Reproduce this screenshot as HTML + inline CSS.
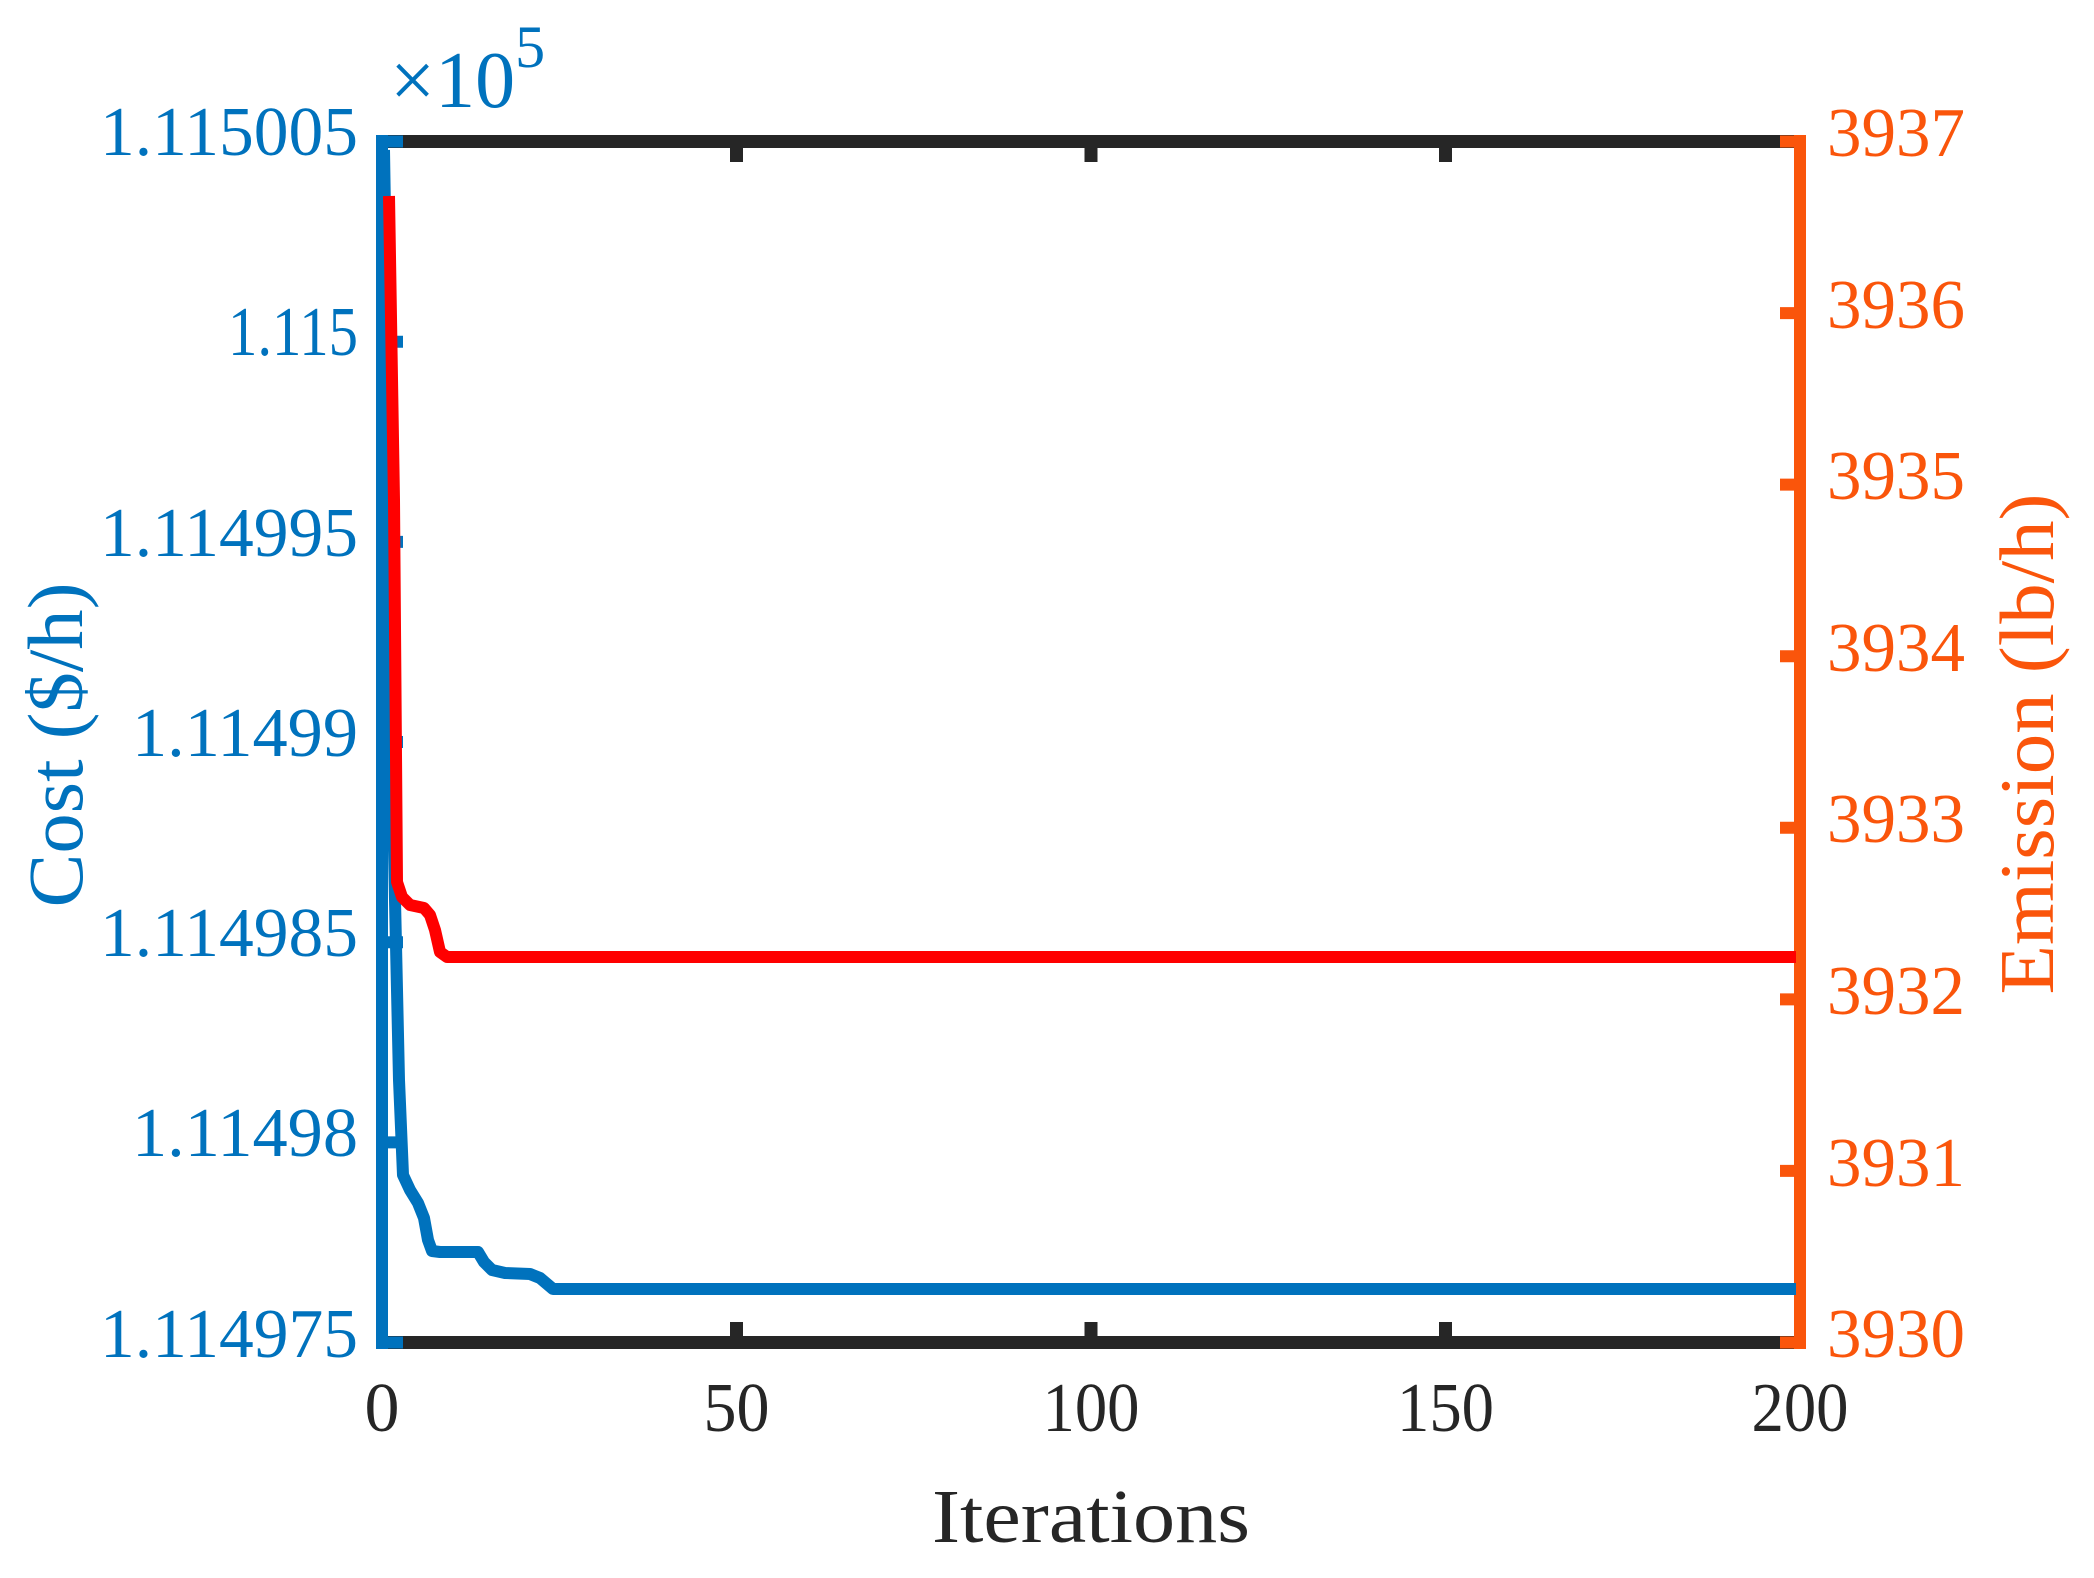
<!DOCTYPE html>
<html><head><meta charset="utf-8"><style>
html,body{margin:0;padding:0;background:#fff;}
svg{display:block;}
text{font-family:"Liberation Serif",serif;}
</style></head><body>
<svg width="2094" height="1578" viewBox="0 0 2094 1578" xmlns="http://www.w3.org/2000/svg">
<rect width="2094" height="1578" fill="#fff"/>
<g stroke="#262626" stroke-width="13" fill="none">
<line x1="376" y1="141.5" x2="1806" y2="141.5"/>
<line x1="376" y1="1342.5" x2="1806" y2="1342.5"/>
<line x1="736.5" y1="141.5" x2="736.5" y2="162"/><line x1="1091" y1="141.5" x2="1091" y2="162"/><line x1="1445.5" y1="141.5" x2="1445.5" y2="162"/>
<line x1="736.5" y1="1342.5" x2="736.5" y2="1322"/><line x1="1091" y1="1342.5" x2="1091" y2="1322"/><line x1="1445.5" y1="1342.5" x2="1445.5" y2="1322"/>
</g>
<g stroke="#0072BD" stroke-width="12" fill="none">
<line x1="382" y1="135" x2="382" y2="1349"/>
<line x1="382" y1="141.5" x2="403" y2="141.5"/>
<line x1="382" y1="341.7" x2="403" y2="341.7"/>
<line x1="382" y1="541.9" x2="403" y2="541.9"/>
<line x1="382" y1="742" x2="403" y2="742"/>
<line x1="382" y1="942.2" x2="403" y2="942.2"/>
<line x1="382" y1="1142.4" x2="403" y2="1142.4"/>
<line x1="382" y1="1342.5" x2="403" y2="1342.5"/>
</g>
<g stroke="#FA550B" stroke-width="12" fill="none">
<line x1="1800" y1="135" x2="1800" y2="1349"/>
<line x1="1800" y1="141.5" x2="1780" y2="141.5"/>
<line x1="1800" y1="313.1" x2="1780" y2="313.1"/>
<line x1="1800" y1="484.6" x2="1780" y2="484.6"/>
<line x1="1800" y1="656.2" x2="1780" y2="656.2"/>
<line x1="1800" y1="827.8" x2="1780" y2="827.8"/>
<line x1="1800" y1="999.4" x2="1780" y2="999.4"/>
<line x1="1800" y1="1170.9" x2="1780" y2="1170.9"/>
<line x1="1800" y1="1342.5" x2="1780" y2="1342.5"/>
</g>
<polyline fill="none" stroke="#0072BD" stroke-width="12" stroke-linejoin="round"
points="384,150 388,400 391,700 395,900 399,1080 403,1175 410,1190 418,1203 424,1218 428,1240 432,1251 440,1252 478,1252 484,1262 492,1270 505,1273 530,1274 540,1278 553,1289 1796,1289"/>
<polyline fill="none" stroke="#FF0000" stroke-width="12" stroke-linejoin="round"
points="389,196 394,500 397,882 402,897 410,905 424,908 430,915 435,930 440,952 447,957 1796,957"/>
<g fill="#0072BD" font-size="70" text-anchor="end">
<text x="358" y="155" textLength="258" lengthAdjust="spacingAndGlyphs">1.115005</text>
<text x="358" y="355" textLength="130" lengthAdjust="spacingAndGlyphs">1.115</text>
<text x="358" y="556" textLength="258" lengthAdjust="spacingAndGlyphs">1.114995</text>
<text x="358" y="756" textLength="226" lengthAdjust="spacingAndGlyphs">1.11499</text>
<text x="358" y="956" textLength="258" lengthAdjust="spacingAndGlyphs">1.114985</text>
<text x="358" y="1156" textLength="226" lengthAdjust="spacingAndGlyphs">1.11498</text>
<text x="358" y="1357" textLength="258" lengthAdjust="spacingAndGlyphs">1.114975</text>
</g>
<text x="390" y="107" fill="#0072BD" font-size="80">×10<tspan font-size="60" dy="-40">5</tspan></text>
<g fill="#FA550B" font-size="70">
<text x="1827" y="156" textLength="138" lengthAdjust="spacingAndGlyphs">3937</text>
<text x="1827" y="328" textLength="138" lengthAdjust="spacingAndGlyphs">3936</text>
<text x="1827" y="499" textLength="138" lengthAdjust="spacingAndGlyphs">3935</text>
<text x="1827" y="671" textLength="138" lengthAdjust="spacingAndGlyphs">3934</text>
<text x="1827" y="842" textLength="138" lengthAdjust="spacingAndGlyphs">3933</text>
<text x="1827" y="1014" textLength="138" lengthAdjust="spacingAndGlyphs">3932</text>
<text x="1827" y="1186" textLength="138" lengthAdjust="spacingAndGlyphs">3931</text>
<text x="1827" y="1357" textLength="138" lengthAdjust="spacingAndGlyphs">3930</text>
</g>
<g fill="#262626" font-size="70" text-anchor="middle">
<text x="382" y="1431">0</text>
<text x="736.5" y="1431" textLength="66" lengthAdjust="spacingAndGlyphs">50</text>
<text x="1091" y="1431" textLength="97" lengthAdjust="spacingAndGlyphs">100</text>
<text x="1445.5" y="1431" textLength="97" lengthAdjust="spacingAndGlyphs">150</text>
<text x="1800" y="1431" textLength="97" lengthAdjust="spacingAndGlyphs">200</text>
</g>
<text x="1091" y="1542" fill="#262626" font-size="76" text-anchor="middle" textLength="318" lengthAdjust="spacingAndGlyphs">Iterations</text>
<text transform="translate(82,745) rotate(-90)" fill="#0072BD" font-size="78" text-anchor="middle" textLength="325" lengthAdjust="spacingAndGlyphs">Cost ($/h)</text>
<text transform="translate(2053,744) rotate(-90)" fill="#FA550B" font-size="77" text-anchor="middle" textLength="501" lengthAdjust="spacingAndGlyphs">Emission (lb/h)</text>
</svg>
</body></html>
